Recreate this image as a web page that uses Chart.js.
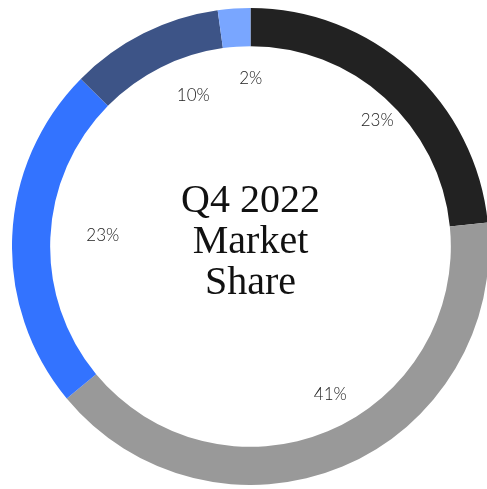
<!DOCTYPE html>
<html>
<head>
<meta charset="utf-8">
<script src="https://cdn.jsdelivr.net/npm/chart.js"></script>
<style>
    html, body { margin: 0; padding: 0; background: #fff; overflow: hidden; }
    body { width: 487px; height: 489px; position: relative; }
    #wrap { position: absolute; left: 12px; top: 8px; width: 477px; height: 477px; }
</style>
</head>
<body>
<div id="wrap"><canvas id="chart"></canvas></div>
<script>
// market share, Q4 2022
const categories = ['Company A', 'Company B', 'Company C', 'Company D', 'Company E'];
const shareValues = [23.4, 40.6, 23.4, 10.4, 2.2];
const sliceColors = ['#222222', '#999999', '#3373ff', '#3d5487', '#79a6ff'];
const centerLines = ['Q4 2022', 'Market', 'Share'];

// percent labels just inside the ring, left-aligned at the slice mid angle
const sliceLabels = {
    id: 'sliceLabels',
    afterDatasetsDraw(chart) {
        const ctx = chart.ctx;
        const meta = chart.getDatasetMeta(0);
        const total = shareValues.reduce((a, b) => a + b, 0);
        ctx.save();
        ctx.font = '300 17px Lato';
        ctx.fillStyle = '#222222';
        ctx.textAlign = 'left';
        ctx.textBaseline = 'middle';
        meta.data.forEach((arc, i) => {
            const mid = (arc.startAngle + arc.endAngle) / 2;
            const r = arc.innerRadius - 36;
            const x = arc.x + Math.cos(mid) * r;
            const y = arc.y + Math.sin(mid) * r - 4;
            ctx.fillText(Math.round(shareValues[i] / total * 100) + '%', x, y);
        });
        ctx.restore();
    }
};

const centerText = {
    id: 'centerText',
    afterDraw(chart) {
        const ctx = chart.ctx;
        const arc = chart.getDatasetMeta(0).data[0];
        ctx.save();
        ctx.font = '40px "Liberation Serif"';
        ctx.fillStyle = '#111111';
        ctx.textAlign = 'center';
        ctx.textBaseline = 'alphabetic';
        const lineH = 41;
        centerLines.forEach((line, i) => {
            ctx.fillText(line, arc.x, arc.y + 6 + (i - 1) * lineH);
        });
        ctx.restore();
    }
};

new Chart(document.getElementById('chart'), {
    type: 'doughnut',
    data: {
        labels: categories,
        datasets: [{
            data: shareValues,
            backgroundColor: sliceColors,
            borderWidth: 0
        }]
    },
    options: {
        responsive: true,
        maintainAspectRatio: false,
        animation: false,
        cutout: '84%',
        layout: { padding: 0 },
        plugins: {
            legend: { display: false },
            tooltip: { enabled: false }
        }
    },
    plugins: [sliceLabels, centerText]
});
</script>
</body>
</html>
